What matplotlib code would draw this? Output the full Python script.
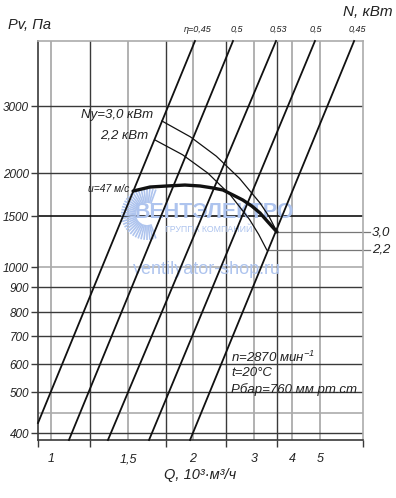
import numpy as np
import matplotlib
matplotlib.use("Agg")
import matplotlib.pyplot as plt
from matplotlib.transforms import Affine2D, blended_transform_factory
from matplotlib.collections import LineCollection

# ---------------- data ----------------
q_ticks = [1, 1.5, 2, 3, 4, 5]
q_tick_labels = ["1", "1,5", "2", "3", "4", "5"]
q_minor = [1.25, 1.8, 2.5, 3.6]          # unlabelled dark grid lines
p_ticks = [400, 500, 600, 700, 800, 900, 1000, 1500, 2000, 3000]
p_tick_labels = ["400", "500", "600", "700", "800", "900", "1000", "1500", "2000", "3000"]
p_gray = [450, 1000]
p_dark = [400, 500, 600, 700, 800, 900, 2000, 3000]
p_black = [1500]
q_gray = [1, 1.5, 2, 3, 4, 5]

# efficiency lines (straight in the chart's frame)
eta_labels = ["η=0,45", "0,5", "0,53", "0,5", "0,45"]
eta_q_start = [0.92, 1.115, 1.368, 1.666, 1.978]
eta_p_start = [425, 383, 383, 383, 383]
eta_q_end = [2.03, 2.625, 3.574, 4.82, 6.19]
eta_p_end = [4000, 4000, 4000, 4000, 4000]

# fan characteristic (thick)
fan_q = [1.54, 1.674, 1.807, 1.94, 2.106, 2.30, 2.455, 2.625, 2.80, 2.96, 3.157, 3.365, 3.6]
fan_p = [1790, 1837, 1849, 1860, 1849, 1826, 1802, 1744, 1686, 1616, 1535, 1441, 1343]

# motor power curves
n30_q = [1.768, 1.981, 2.353, 2.743, 3.164, 3.399, 3.6]
n30_p = [2776, 2539, 2251, 1936, 1647, 1491, 1343]
n22_q = [1.713, 1.923, 2.226, 2.577, 2.920, 3.123, 3.334]
n22_p = [2493, 2272, 1998, 1745, 1466, 1319, 1167]
n_labels = ["3,0", "2,2"]

# ---------------- axis calibration (chart frame) ----------------
Q_CAL = [0.92, 1, 1.25, 1.5, 1.8, 2, 2.5, 3, 3.6, 4, 5, 6.5]
Q_POS = [0, 13, 52, 90, 128, 155, 188, 216, 239, 254, 282, 325]
P_CAL = [383, 400, 450, 500, 600, 700, 800, 900, 1000, 1500, 2000, 3000, 4000]
P_POS = [0, 7, 27, 48, 76, 104, 128, 153, 173, 224, 267, 334, 399]

plt.rcParams['font.family'] = ['Liberation Sans', 'DejaVu Sans']
plt.rcParams['font.style'] = 'italic'
plt.rcParams['mathtext.default'] = 'regular'

W, H = 396, 498
fig = plt.figure(figsize=(W / 100, H / 100), dpi=100)
ax = fig.add_axes([38 / W, 1 - 440 / H, 325 / W, 399 / H])
PXT = Affine2D().scale(1 / W, -1 / H).translate(0, 1) + fig.transFigure


def fq(v):
    return np.interp(v, Q_CAL, Q_POS)


def iq(v):
    return np.interp(v, Q_POS, Q_CAL)


def fp(v):
    return np.interp(v, P_CAL, P_POS)


def ip(v):
    return np.interp(v, P_POS, P_CAL)


ax.set_xscale('function', functions=(fq, iq))
ax.set_yscale('function', functions=(fp, ip))
ax.set_xlim(Q_CAL[0], Q_CAL[-1])
ax.set_ylim(P_CAL[0], P_CAL[-1])

DARK = '#3a3a3a'
GRAY = '#ababab'

# grid
for q in q_gray:
    ax.axvline(q, color=GRAY, lw=1.3, zorder=1)
for q in q_minor:
    ax.axvline(q, color=DARK, lw=1.0, zorder=1.1)
for p in p_gray:
    ax.axhline(p, color=GRAY, lw=1.2, zorder=1)
for p in p_dark:
    ax.axhline(p, color=DARK, lw=1.0, zorder=1.1)
for p in p_black:
    ax.axhline(p, color='#111111', lw=1.2, zorder=1.1)

for side, c in [('left', DARK), ('bottom', DARK), ('top', GRAY), ('right', GRAY)]:
    ax.spines[side].set_color(c)
    ax.spines[side].set_linewidth(1.2)

ax.set_xticks(q_ticks)
ax.set_xticklabels(q_tick_labels)
ax.set_xticks(q_minor + [Q_CAL[0], Q_CAL[-1]], minor=True)
ax.tick_params(axis='x', which='major', length=0, pad=9.5, labelsize=9, colors='#222222')
ax.tick_params(axis='x', which='minor', length=5, width=1, color=DARK)
ax.set_yticks(p_ticks)
ax.set_yticklabels(p_tick_labels)
ax.yaxis.set_minor_locator(matplotlib.ticker.NullLocator())
ax.tick_params(axis='y', which='major', length=5, width=1, color=DARK, pad=1.5,
               labelsize=8.5, labelcolor='#222222')

# watermark (behind the curves)
wm = '#aec4ee'
rays = []
cx, cy = 147, 214
for a in np.linspace(70, 290, 34):
    t = np.deg2rad(a)
    rays.append([(cx + 11 * np.cos(t), cy - 11 * np.sin(t)),
                 (cx + 26 * np.cos(t), cy - 26 * np.sin(t))])
lc = LineCollection(rays, colors=wm, linewidths=1.2, transform=PXT, zorder=1.5)
ax.add_collection(lc)
lc.set_clip_on(False)
ax.text(135, 213, "ВЕНТЭЛЕКТРО", transform=PXT, fontsize=15.5, fontweight='bold',
        style='normal', color=wm, va='center', ha='left', zorder=1.6)
ax.text(165, 229, "ГРУППА КОМПАНИЙ", transform=PXT, fontsize=6.3, style='normal',
        color=wm, va='center', ha='left', zorder=1.6)
ax.text(133, 270, "ventilyator-shop.ru", transform=PXT, fontsize=13, style='normal',
        color=wm, va='center', ha='left', zorder=1.6)

# efficiency lines
for qs, ps, qe, pe in zip(eta_q_start, eta_p_start, eta_q_end, eta_p_end):
    ax.plot([qs, qe], [ps, pe], color='#111111', lw=1.3, zorder=3, clip_on=False)

# power curves and fan curve
ax.plot(n30_q, n30_p, color='#111111', lw=0.9, zorder=3)
ax.plot(n22_q, n22_p, color='#111111', lw=0.9, zorder=3)
ax.plot(fan_q, fan_p, color='#111111', lw=2.4, zorder=4, solid_capstyle='round')

# horizontal links to the N scale
bt = blended_transform_factory(ax.transAxes, ax.transData)
for qq, pp, lab in [(n30_q[-1], n30_p[-1], n_labels[0]), (n22_q[-1], n22_p[-1], n_labels[1])]:
    ax.plot([qq, Q_CAL[-1]], [pp, pp], color='#777777', lw=0.9, zorder=2)
    ax.plot([1.0, 1.0 + 7 / 325], [pp, pp], color='#777777', lw=0.9, transform=bt,
            clip_on=False, zorder=2)
    ax.text(1.0 + 9 / 325, pp, lab, transform=bt, fontsize=9.5, va='center', ha='left',
            color='#222222')

# labels
txt = dict(transform=PXT, color='#222222', va='center')
ax.text(8, 25, "Pv, Па", ha='left', fontsize=10.5, **txt)
ax.text(393, 12, "N, кВт", ha='right', fontsize=11, **txt)
for lab, xx in zip(eta_labels, [198, 237, 278, 316, 357]):
    ax.text(xx, 29, lab, ha='center', fontsize=6.5, **txt)
ax.text(81, 115, "Ny=3,0 кВт", ha='left', fontsize=9.5, **txt)
ax.text(100, 135, "2,2 кВт", ha='left', fontsize=9.5, **txt)
ax.text(129, 189, "u=47 м/с", ha='right', fontsize=7.5, **txt)
ax.text(231, 357, "n=2870 мин$^{-1}$", ha='left', fontsize=9.5, **txt)
ax.text(231, 373, "t=20°C", ha='left', fontsize=9.5, **txt)
ax.text(231, 390, "Рбар=760 мм рт.ст", ha='left', fontsize=9.5, **txt)
ax.text(200, 475, "Q, 10³·м³/ч", ha='center', fontsize=10.5, **txt)

fig.savefig("out.png", dpi=100)
